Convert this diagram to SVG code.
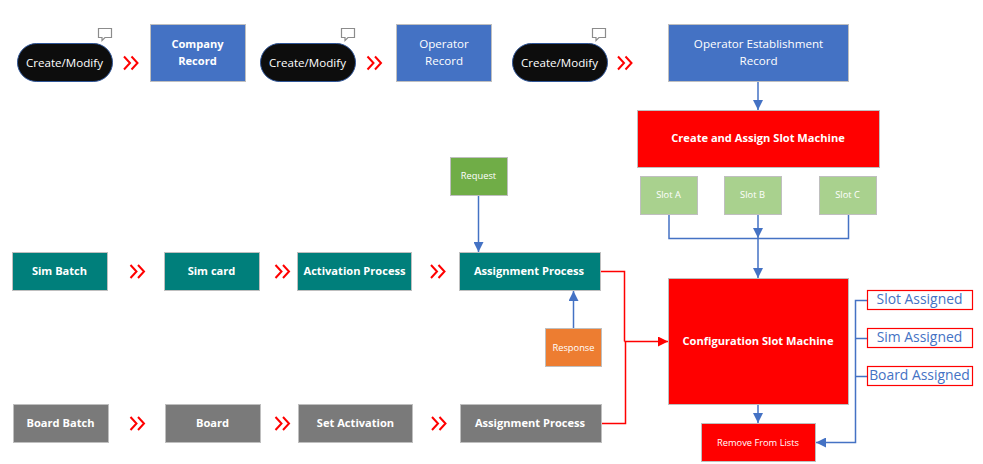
<svg xmlns="http://www.w3.org/2000/svg" width="983" height="464" viewBox="0 0 983 464">
<style>
text{font-family:"Open Sans","Noto Sans","Liberation Sans",sans-serif;text-anchor:middle;fill:#fff;font-size:11.6px}
.b{font-weight:700;font-size:11.1px}
.s{font-size:9.3px}
.box{stroke:#bfbfbf;stroke-width:1}
.pill{fill:#0d0d0d;stroke:#2f5597;stroke-width:1}
.blue{fill:#4472c4}.teal{fill:#007f7b}.gray{fill:#7a7a7a}.red{fill:#f00}
.tag{fill:#fff;stroke:#f00;stroke-width:1.2}
.tag+text{fill:#4472c4;font-size:13.9px}
.bl{fill:none;stroke:#4472c4;stroke-width:1.5}
.rd{fill:none;stroke:#f00;stroke-width:1.5}
.chev{fill:none;stroke:#f00;stroke-width:2}
.bub{fill:#fff;stroke:#8c8c8c;stroke-width:1.2}
</style>
<defs>
<marker id="ab" markerUnits="userSpaceOnUse" markerWidth="11" markerHeight="10" refX="10" refY="5" orient="auto"><path d="M0 0L10 5L0 10Z" fill="#4472c4"/></marker>
<marker id="ar" markerUnits="userSpaceOnUse" markerWidth="11" markerHeight="10" refX="10" refY="5" orient="auto"><path d="M0 0L10 5L0 10Z" fill="#f00"/></marker>
<g id="ch"><path class="chev" d="M0-6.500L6 0L0 6.500M7.500-6.500L13.500 0L7.500 6.500"/></g>
<g id="sp"><path class="bub" d="M0.500 0.500H13.500V9.500H7L4 12.500V9.500H0.500Z"/></g>
</defs>

<g id="connectors">
<path class="bl" marker-end="url(#ab)" d="M758 81V110"/>
<path class="bl" d="M669 214V238.500H848.500V214"/>
<path class="bl" marker-end="url(#ab)" d="M758 214V238"/>
<path class="bl" marker-end="url(#ab)" d="M758 238V278"/>
<path class="bl" marker-end="url(#ab)" d="M758 404V423"/>
<path class="bl" marker-end="url(#ab)" d="M478.500 195V252"/>
<path class="bl" marker-end="url(#ab)" d="M573.500 329V291"/>
<path class="bl" marker-end="url(#ab)" d="M867 300.500H855.500V442.500H816"/>
<path class="bl" d="M855.500 338.500H867M855.500 376.500H867"/>
<path class="rd" d="M600 271.500H624.500V341.500"/>
<path class="rd" d="M601 423.500H625.500V341.500"/>
<path class="rd" marker-end="url(#ar)" d="M624.500 341.500H668"/>
<use href="#ch" x="124" y="63"/>
<use href="#ch" x="367.500" y="63"/>
<use href="#ch" x="618" y="63"/>
<use href="#ch" x="130.500" y="271.500"/>
<use href="#ch" x="275.500" y="271.500"/>
<use href="#ch" x="431" y="271.500"/>
<use href="#ch" x="130.500" y="423.500"/>
<use href="#ch" x="275.500" y="423.500"/>
<use href="#ch" x="432" y="423.500"/>
</g>

<g id="create1"><rect class="pill" x="17.500" y="43.500" width="95" height="38" rx="19"/><text x="64.500" y="66.500">Create/Modify</text><use href="#sp" x="98" y="28"/></g>
<g id="company"><rect class="box blue" x="150.500" y="24.500" width="95" height="57"/><text class="b" x="197.500" y="48">Company</text><text class="b" x="197.500" y="65">Record</text></g>
<g id="create2"><rect class="pill" x="260.500" y="43.500" width="95" height="38" rx="19"/><text x="307.500" y="66.500">Create/Modify</text><use href="#sp" x="341" y="28"/></g>
<g id="operator"><rect class="box blue" x="396.500" y="24.500" width="95" height="57"/><text x="444" y="48">Operator</text><text x="444" y="65">Record</text></g>
<g id="create3"><rect class="pill" x="512.500" y="43.500" width="95" height="38" rx="19"/><text x="559.500" y="66.500">Create/Modify</text><use href="#sp" x="592" y="28"/></g>
<g id="establishment"><rect class="box blue" x="668.500" y="24.500" width="180" height="57"/><text x="758.500" y="48">Operator Establishment</text><text x="758.500" y="65">Record</text></g>
<g id="createassign"><rect class="box red" x="637.500" y="110.500" width="242" height="57"/><text class="b" x="758" y="142">Create and Assign Slot Machine</text></g>
<g id="slota"><rect class="box" fill="#a9d18e" x="640.500" y="176.500" width="57" height="38"/><text class="s" x="668.500" y="198">Slot A</text></g>
<g id="slotb"><rect class="box" fill="#a9d18e" x="724.500" y="176.500" width="57" height="38"/><text class="s" x="752.500" y="198">Slot B</text></g>
<g id="slotc"><rect class="box" fill="#a9d18e" x="819.500" y="176.500" width="57" height="38"/><text class="s" x="847.500" y="198">Slot C</text></g>
<g id="request"><rect class="box" fill="#70ad47" x="450.500" y="157.500" width="57" height="38"/><text class="s" x="478.500" y="179">Request</text></g>
<g id="response"><rect class="box" fill="#ed7d31" x="545.500" y="328.500" width="56" height="38"/><text class="s" x="573.500" y="350.500">Response</text></g>
<g id="simbatch"><rect class="box teal" x="12.500" y="252.500" width="95" height="38"/><text class="b" x="59.500" y="275">Sim Batch</text></g>
<g id="simcard"><rect class="box teal" x="164.500" y="252.500" width="95" height="38"/><text class="b" x="211.500" y="275">Sim card</text></g>
<g id="activation"><rect class="box teal" x="297.500" y="252.500" width="114" height="38"/><text class="b" x="354.500" y="275">Activation Process</text></g>
<g id="assign1"><rect class="box teal" x="459.500" y="252.500" width="141" height="38"/><text class="b" x="529" y="275">Assignment Process</text></g>
<g id="boardbatch"><rect class="box gray" x="13.500" y="404.500" width="95" height="38"/><text class="b" x="60.500" y="427">Board Batch</text></g>
<g id="board"><rect class="box gray" x="165.500" y="404.500" width="95" height="38"/><text class="b" x="212.500" y="427">Board</text></g>
<g id="setactivation"><rect class="box gray" x="298.500" y="404.500" width="114" height="38"/><text class="b" x="355.500" y="427">Set Activation</text></g>
<g id="assign2"><rect class="box gray" x="460.500" y="404.500" width="141" height="38"/><text class="b" x="530" y="427">Assignment Process</text></g>
<g id="config"><rect class="box red" x="668.500" y="278.500" width="180" height="126"/><text class="b" x="758" y="345">Configuration Slot Machine</text></g>
<g id="remove"><rect class="box red" x="701.500" y="423.500" width="114" height="38"/><text class="s" x="758" y="445.500">Remove From Lists</text></g>
<g id="slotassigned"><rect class="tag" x="867.500" y="290.500" width="105" height="19"/><text x="919.500" y="304">Slot Assigned</text></g>
<g id="simassigned"><rect class="tag" x="867.500" y="328.500" width="105" height="19"/><text x="919.500" y="342">Sim Assigned</text></g>
<g id="boardassigned"><rect class="tag" x="867.500" y="366.500" width="105" height="19"/><text x="919.500" y="380">Board Assigned</text></g>
</svg>
